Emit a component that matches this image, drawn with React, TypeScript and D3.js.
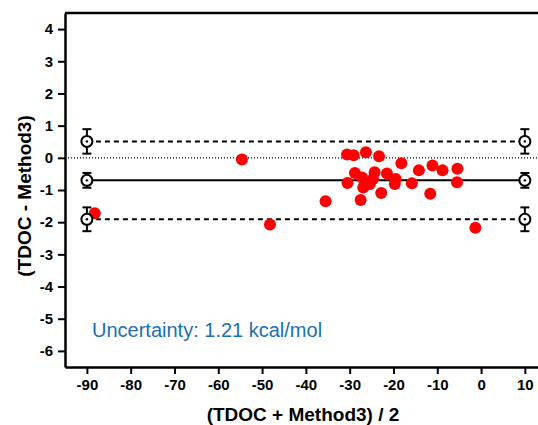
import * as d3 from 'd3'
import { useEffect, useRef } from "react";

// Bland-Altman points: mean of the two methods vs their difference
const meanValues = [-88.2, -54.6, -48.2, -35.5, -30.6, -29.1, -26.3, -23.3, -18.2, -28.8,
    -27.2, -24.3, -21.5, -19.5, -30.5, -26.9, -25.4, -24.7, -19.7, -22.8,
    -27.5, -15.8, -14.2, -11.1, -8.8, -5.4, -5.5, -11.6, -1.3];
const diffValues = [-1.72, -0.05, -2.07, -1.35, 0.10, 0.08, 0.17, 0.05, -0.17, -0.47,
    -0.61, -0.45, -0.49, -0.66, -0.78, -0.92, -0.81, -0.66, -0.81, -1.09,
    -1.31, -0.79, -0.39, -0.24, -0.39, -0.34, -0.76, -1.12, -2.17];

// bias and limits of agreement, with their confidence intervals
const limitLabels = ["upper", "bias", "lower"];
const limitValues = [0.51, -0.70, -1.91];
const limitErrors = [0.38, 0.23, 0.37];
const limitEnds = [-90, 10];

const xTicks = [-90, -80, -70, -60, -50, -40, -30, -20, -10, 0, 10];
const yTicks = [4, 3, 2, 1, 0, -1, -2, -3, -4, -5, -6];

const note = "Uncertainty: 1.21 kcal/mol";

export default function App() {
    const svgRef = useRef(null);

    const width = 538, height = 425;
    const margin = {top: 13, right: 0, bottom: 58, left: 65};
    const font = "Arial, 'Liberation Sans', sans-serif";

    useEffect(() => {
        document.body.style.margin = "0";
        const svg = d3.select(svgRef.current);
        svg.selectAll("*").remove();

        const x = d3.scaleLinear().domain([-95, 13]).range([margin.left, width - margin.right]);
        const y = d3.scaleLinear().domain([-6.5, 4.5]).range([height - margin.bottom, margin.top]);

        // zero reference line (dotted)
        svg.append("line")
            .attr("x1", margin.left).attr("x2", width)
            .attr("y1", y(0)).attr("y2", y(0))
            .attr("stroke", "black").attr("stroke-width", 1.2)
            .attr("stroke-dasharray", "1,2");

        // bias and limits lines
        limitValues.forEach((v, i) => {
            svg.append("line")
                .attr("x1", x(limitEnds[0])).attr("x2", x(limitEnds[1]))
                .attr("y1", y(v)).attr("y2", y(v))
                .attr("stroke", "black").attr("stroke-width", 2)
                .attr("stroke-dasharray", limitLabels[i] === "bias" ? null : "5,4");
        });

        // data points
        svg.selectAll(".pt")
            .data(meanValues.map((m, i) => ({x: m, y: diffValues[i]})))
            .enter().append("circle")
            .attr("class", "pt")
            .attr("cx", d => x(d.x))
            .attr("cy", d => y(d.y))
            .attr("r", 6)
            .attr("fill", "#ff0000");

        // open markers with CI error bars at both ends
        limitEnds.forEach(xe => {
            limitValues.forEach((v, i) => {
                const g = svg.append("g").attr("stroke", "black").attr("stroke-width", 2);
                const cx = x(xe);
                const top = y(v + limitErrors[i]), bot = y(v - limitErrors[i]);
                g.append("line").attr("x1", cx).attr("x2", cx).attr("y1", top).attr("y2", bot);
                g.append("line").attr("x1", cx - 4.5).attr("x2", cx + 4.5).attr("y1", top).attr("y2", top);
                g.append("line").attr("x1", cx - 4.5).attr("x2", cx + 4.5).attr("y1", bot).attr("y2", bot);
                g.append("circle").attr("cx", cx).attr("cy", y(v)).attr("r", 5.5).attr("fill", "white");
                g.append("circle").attr("cx", cx).attr("cy", y(v)).attr("r", 1.2).attr("fill", "black").attr("stroke", "none");
            });
        });

        // frame: top line
        svg.append("line")
            .attr("x1", margin.left).attr("x2", width)
            .attr("y1", margin.top).attr("y2", margin.top)
            .attr("stroke", "black").attr("stroke-width", 2.5);

        // axes (plain hyphen for negatives, like the original)
        const fmt = d => String(d);
        const xAxis = svg.append("g")
            .attr("transform", `translate(0, ${height - margin.bottom})`)
            .call(d3.axisBottom(x).tickValues(xTicks).tickFormat(fmt).tickSize(7).tickPadding(5).tickSizeOuter(0));
        const yAxis = svg.append("g")
            .attr("transform", `translate(${margin.left}, 0)`)
            .call(d3.axisLeft(y).tickValues(yTicks).tickFormat(fmt).tickSize(7).tickPadding(5).tickSizeOuter(0));

        [xAxis, yAxis].forEach(a => {
            a.attr("font-family", font).attr("font-size", 15).attr("font-weight", "bold");
            a.select(".domain").attr("stroke", "black").attr("stroke-width", 2.5);
            a.selectAll(".tick line").attr("stroke", "black").attr("stroke-width", 2);
            a.selectAll(".tick text").attr("fill", "black");
        });

        // axis titles
        svg.append("text")
            .attr("x", 303).attr("y", 421)
            .attr("text-anchor", "middle")
            .attr("font-family", font).attr("font-size", 19).attr("font-weight", "bold")
            .text("(TDOC + Method3) / 2");

        svg.append("text")
            .attr("transform", `translate(31, 196) rotate(-90)`)
            .attr("text-anchor", "middle")
            .attr("font-family", font).attr("font-size", 19).attr("font-weight", "bold")
            .text("(TDOC - Method3)");

        svg.append("text")
            .attr("x", 92).attr("y", 337)
            .attr("font-family", font).attr("font-size", 20)
            .attr("fill", "#1b6fb1")
            .text(note);
    }, []);

    return (
        <svg ref={svgRef} width={width} height={height} style={{display: "block"}} />
    );
}
